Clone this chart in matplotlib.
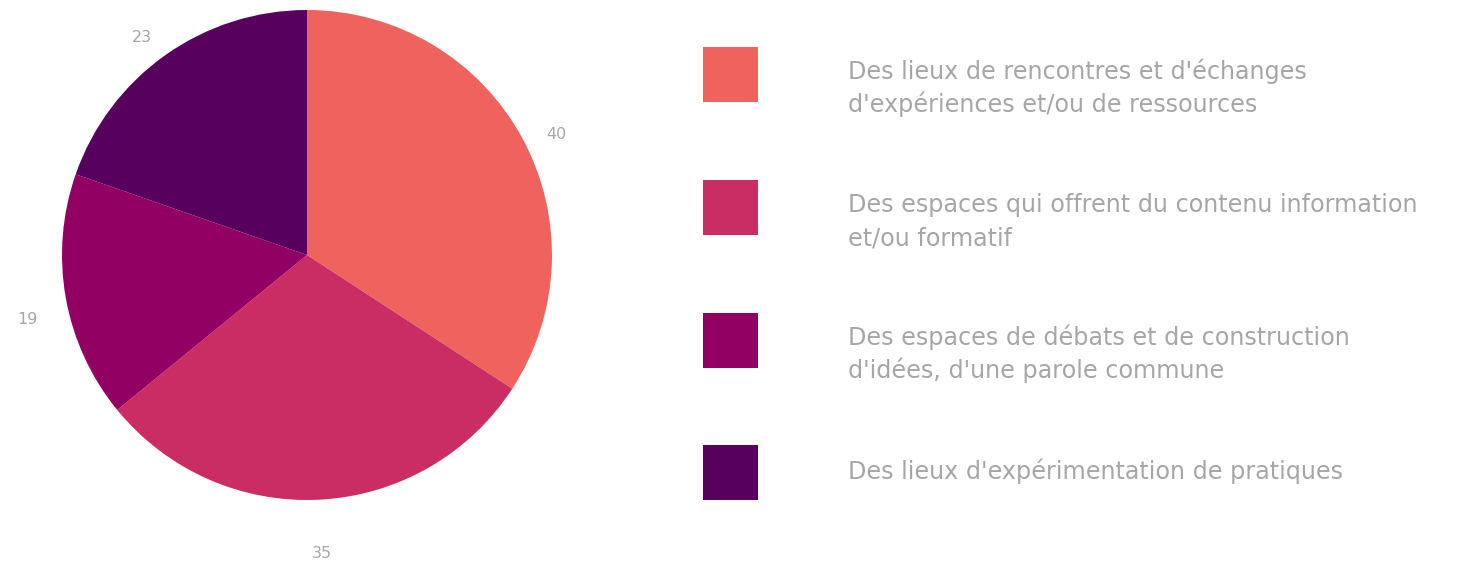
import matplotlib
matplotlib.use("Agg")
import matplotlib.pyplot as plt
from matplotlib.patches import Rectangle

categories = [
    "Des lieux de rencontres et d'échanges\nd'expériences et/ou de ressources",
    "Des espaces qui offrent du contenu information\net/ou formatif",
    "Des espaces de débats et de construction\nd'idées, d'une parole commune",
    "Des lieux d'expérimentation de pratiques",
]
values = [40, 35, 19, 23]
colors = ["#F0625D", "#C92D63", "#920063", "#57005D"]

W, H = 1472, 564
TEXT_GREY = "#A6A6A6"
plt.rcParams["font.family"] = ["DejaVu Sans"]

fig = plt.figure(figsize=(W / 100, H / 100), dpi=100)
fig.patch.set_facecolor("white")

# pie axes: center ~ (307, 255) px, radius ~245 px
ax = fig.add_axes([62 / W, (H - 500) / H, 490 / W, 490 / H])
wedges, texts = ax.pie(values, colors=colors, startangle=90, counterclock=False,
                       labels=[str(v) for v in values], labeldistance=1.16,
                       wedgeprops=dict(linewidth=0))
for t in texts:
    x, y = t.get_position()
    t.set_position((x, y - 0.06))
    t.set_color(TEXT_GREY)
    t.set_fontsize(11.5)
    t.set_ha("center")
    t.set_va("center")
ax.set_xlim(-1, 1)
ax.set_ylim(-1, 1)
ax.set_aspect("equal")
ax.axis("off")

# legend, drawn by hand
sq_tops = [47, 180, 313, 445]
for lab, col, top in zip(categories, colors, sq_tops):
    fig.patches.append(Rectangle((703 / W, (H - top - 55) / H), 55 / W, 55 / H,
                                 transform=fig.transFigure, facecolor=col,
                                 edgecolor="none"))
    lines = lab.split("\n")
    base = top + 32 if len(lines) > 1 else top + 34
    for k, line in enumerate(lines):
        fig.text(848 / W, (H - base - 33 * k) / H, line, color=TEXT_GREY,
                 fontsize=17.2, ha="left", va="baseline")

fig.savefig("out.png", dpi=100)
